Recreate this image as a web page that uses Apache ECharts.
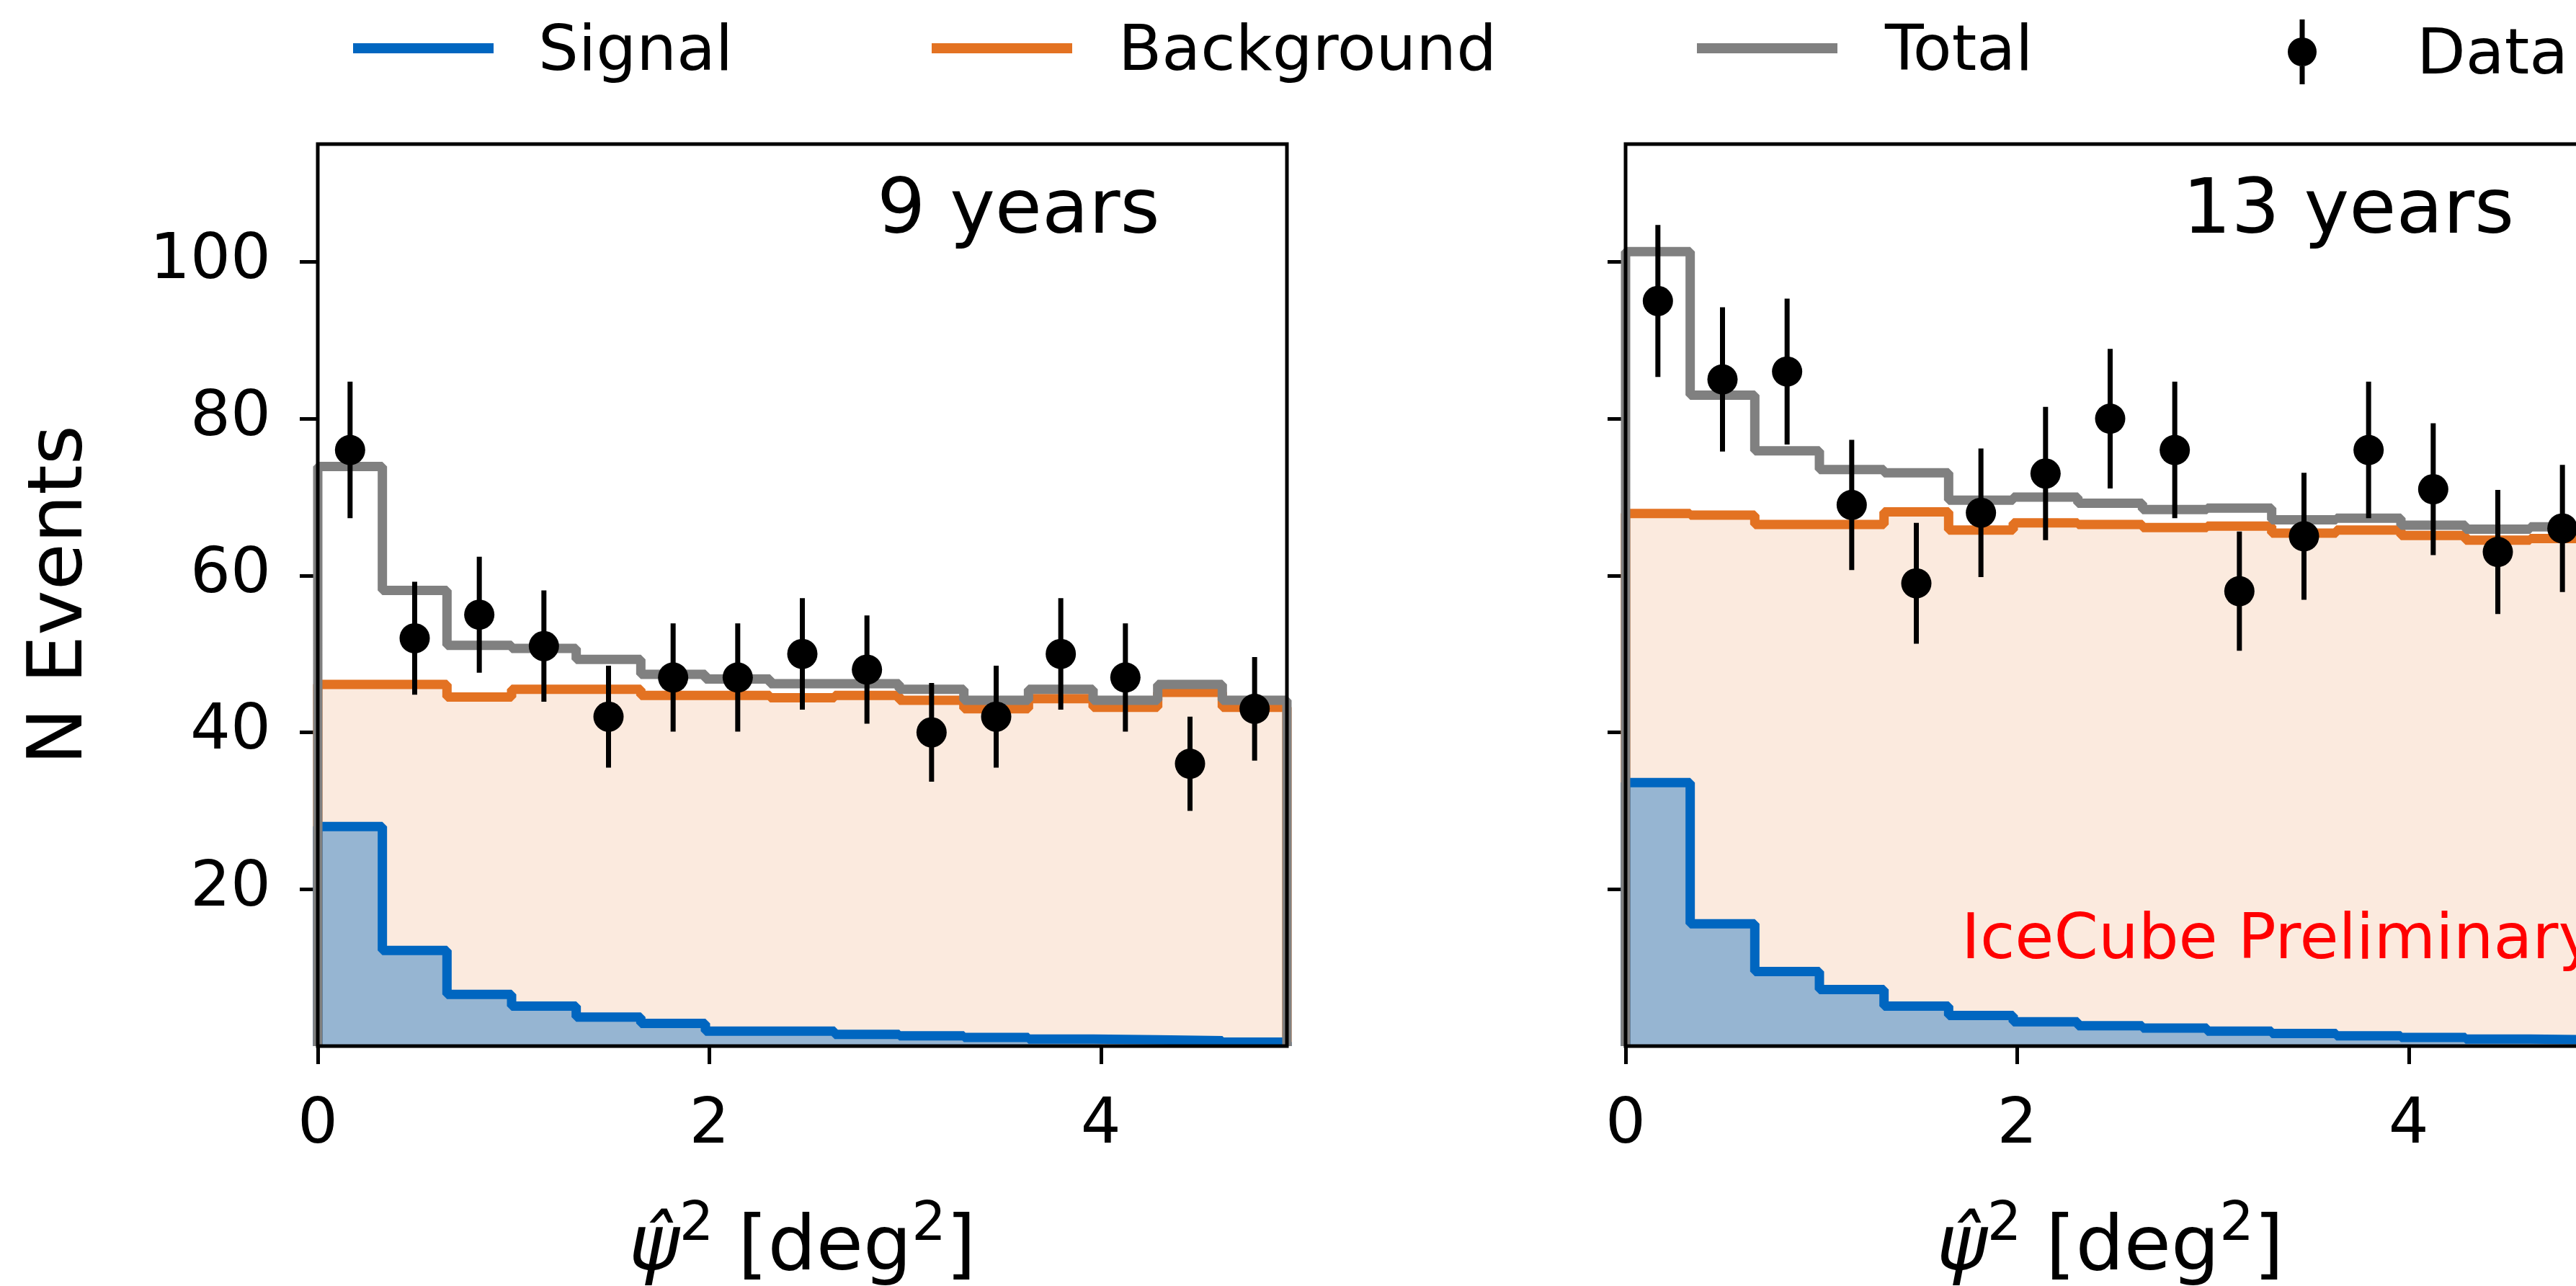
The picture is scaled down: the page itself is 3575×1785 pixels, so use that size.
<!DOCTYPE html>
<html>
<head>
<meta charset="utf-8">
<script src="https://cdn.jsdelivr.net/npm/echarts@6/dist/echarts.min.js"></script>
<style>
  html, body { margin: 0; padding: 0; background: #fff; }
  #chart { width: 3575px; height: 1785px; }
</style>
</head>
<body>
<div id="chart"></div>
<script>
// bin edges of psi^2 [deg^2]
var binEdges = [0, 0.33, 0.66, 0.99, 1.32, 1.65, 1.98, 2.31, 2.64, 2.97, 3.30, 3.63, 3.96, 4.29, 4.62, 4.95];

// 9 years
var signal9 = [28.0, 12.2, 6.6, 5.1, 3.7, 2.9, 1.9, 1.9, 1.5, 1.3, 1.1, 0.9, 0.8, 0.7, 0.5];
var background9 = [46.1, 46.1, 44.5, 45.5, 45.5, 44.7, 44.7, 44.4, 44.7, 44.1, 43.0, 44.3, 43.2, 45.1, 43.2];
var total9 = [73.9, 58.1, 51.1, 50.7, 49.3, 47.4, 46.8, 46.2, 46.2, 45.5, 44.1, 45.5, 44.1, 46.1, 44.1];
var data9 = [76, 52, 55, 51, 42, 47, 47, 50, 48, 40, 42, 50, 47, 36, 43];
var err9 = [8.7, 7.2, 7.4, 7.1, 6.5, 6.9, 6.9, 7.1, 6.9, 6.3, 6.5, 7.1, 6.9, 6.0, 6.6];

// 13 years
var signal13 = [33.6, 15.6, 9.5, 7.2, 5.1, 3.9, 3.1, 2.6, 2.3, 1.9, 1.6, 1.3, 1.1, 0.9, 0.8];
var background13 = [67.9, 67.7, 66.5, 66.5, 68.1, 65.8, 66.7, 66.5, 66.1, 66.3, 65.4, 65.8, 65.1, 64.5, 64.7];
var total13 = [101.3, 83.0, 75.9, 73.5, 73.1, 69.6, 70.0, 69.2, 68.4, 68.6, 67.1, 67.3, 66.4, 65.9, 66.2];
var data13 = [95, 85, 86, 69, 59, 68, 73, 80, 76, 58, 65, 76, 71, 63, 66];
var err13 = [9.7, 9.2, 9.3, 8.3, 7.7, 8.2, 8.5, 8.9, 8.7, 7.6, 8.1, 8.7, 8.4, 7.9, 8.1];

var xTicks = [0, 2, 4];
var yTicks = [20, 40, 60, 80, 100];
var panelLabels = ['9 years', '13 years'];

var FONT = 'DejaVu Sans';
var BLUE = '#0066c0', ORANGE = '#e37222', GRAY = '#808080';

// histogram outline: down to 0 at both ends like matplotlib step hist
function stepData(vals) {
  var pts = [[binEdges[0], 0]];
  vals.forEach(function (v, i) { pts.push([binEdges[i], v]); });
  var last = binEdges[binEdges.length - 1];
  pts.push([last, vals[vals.length - 1]]);
  pts.push([last, 0]);
  return pts;
}
function centers() {
  var c = [];
  for (var i = 0; i < binEdges.length - 1; i++) c.push((binEdges[i] + binEdges[i + 1]) / 2);
  return c;
}

function panelSeries(idx, sig, bkg, tot, dat, err) {
  var cx = centers();
  return [
    {
      name: 'Background', type: 'line', step: 'end', xAxisIndex: idx, yAxisIndex: idx,
      data: stepData(bkg), showSymbol: false, color: ORANGE,
      lineStyle: { color: ORANGE, width: 13 },
      areaStyle: { color: ORANGE, opacity: 0.15 }, z: 2
    },
    {
      name: 'Signal', type: 'line', step: 'end', xAxisIndex: idx, yAxisIndex: idx,
      data: stepData(sig), showSymbol: false, color: BLUE,
      lineStyle: { color: BLUE, width: 13 },
      areaStyle: { color: BLUE, opacity: 0.4 }, z: 3
    },
    {
      name: 'Total', type: 'line', step: 'end', xAxisIndex: idx, yAxisIndex: idx,
      data: stepData(tot), showSymbol: false, color: GRAY,
      lineStyle: { color: GRAY, width: 13 }, z: 4
    },
    {
      name: 'Data', type: 'custom', xAxisIndex: idx, yAxisIndex: idx,
      data: dat.map(function (v, i) { return [cx[i], v - err[i], v + err[i]]; }),
      encode: { x: 0, y: [1, 2] },
      renderItem: function (params, api) {
        var p1 = api.coord([api.value(0), api.value(1)]);
        var p2 = api.coord([api.value(0), api.value(2)]);
        return {
          type: 'line',
          shape: { x1: p1[0], y1: p1[1], x2: p2[0], y2: p2[1] },
          style: { stroke: '#000', lineWidth: 7 }
        };
      },
      z: 5
    },
    {
      name: 'Data', type: 'scatter', xAxisIndex: idx, yAxisIndex: idx,
      data: dat.map(function (v, i) { return [cx[i], v]; }),
      symbol: 'circle', symbolSize: 42, itemStyle: { color: '#000', opacity: 1 }, z: 6
    }
  ];
}

function xAxisOf(idx) {
  return {
    type: 'value', gridIndex: idx, min: 0, max: 4.95,
    splitLine: { show: false },
    axisLine: { show: false },
    axisTick: { show: true, length: 25, lineStyle: { color: '#000', width: 5 }, customValues: xTicks },
    axisLabel: { fontFamily: FONT, fontSize: 88, color: '#000', margin: 67, customValues: xTicks },
    name: '{i|\u03c8\u0302}{s|2}{n| [deg}{s|2}{n|]}',
    nameLocation: 'middle', nameGap: 212,
    nameTextStyle: {
      fontFamily: FONT, fontSize: 106, color: '#000',
      rich: {
        i: { fontFamily: FONT, fontSize: 106, fontStyle: 'italic', color: '#000', lineHeight: 140 },
        n: { fontFamily: FONT, fontSize: 106, color: '#000', lineHeight: 140 },
        s: { fontFamily: FONT, fontSize: 75, color: '#000', verticalAlign: 'top' }
      }
    }
  };
}
function yAxisOf(idx, showLabels) {
  return {
    type: 'value', gridIndex: idx, min: 0, max: 115,
    splitLine: { show: false },
    axisLine: { show: false },
    axisTick: { show: true, length: 25, lineStyle: { color: '#000', width: 5 }, customValues: yTicks },
    axisLabel: { show: showLabels, fontFamily: FONT, fontSize: 88, color: '#000', margin: 65, customValues: yTicks },
    name: showLabels ? 'N Events' : '',
    nameLocation: 'middle', nameGap: 303, nameRotate: 90,
    nameTextStyle: { fontFamily: FONT, fontSize: 106, color: '#000' }
  };
}

// legend handles: the icon box is taller than the drawn mark, so the label
// sits a little lower, like the matplotlib legend
var LINE_ICON = 'path://M0,0 L195,0 L195,14 L0,14 Z M0,28 L0.01,28 Z';
var DATA_ICON = 'path://M16.5,0 L23.5,0 L23.5,90 L16.5,90 Z M0,45 A20,20 0 1,1 40,45 A20,20 0 1,1 0,45 Z M0,105 L0.01,105 Z';

function legendOf(name, left, top, icon, w, h, color, pad) {
  return {
    data: [{ name: name, icon: icon, itemStyle: { color: color, borderWidth: 0 } }],
    left: left, top: top, padding: 0,
    itemWidth: w, itemHeight: h, selectedMode: false,
    textStyle: { fontFamily: FONT, fontSize: 88, color: '#000', padding: [0, 0, 0, pad] }
  };
}

var gridBase = {
  top: 200, width: 1345, height: 1252, show: true,
  borderColor: '#000', borderWidth: 5, backgroundColor: 'transparent', z: 10,
  outerBoundsMode: 'none', containLabel: false
};

var chart = echarts.init(document.getElementById('chart'));
chart.setOption({
  backgroundColor: '#fff',
  animation: false,
  grid: [
    Object.assign({ left: 441 }, gridBase),
    Object.assign({ left: 2256 }, gridBase)
  ],
  legend: [
    legendOf('Signal', 490, 30, LINE_ICON, 195, 28, BLUE, 57),
    legendOf('Background', 1293, 30, LINE_ICON, 195, 28, ORANGE, 59),
    legendOf('Total', 2355, 30, LINE_ICON, 195, 28, GRAY, 61),
    legendOf('Data', 3175, 27, DATA_ICON, 40, 105, '#000', 134)
  ],
  xAxis: [xAxisOf(0), xAxisOf(1)],
  yAxis: [yAxisOf(0, true), yAxisOf(1, false)],
  graphic: [
    { type: 'text', left: 1217, top: 242, z: 100, style: { text: panelLabels[0], font: '106px "DejaVu Sans"', fill: '#000' } },
    { type: 'text', left: 3029, top: 242, z: 100, style: { text: panelLabels[1], font: '106px "DejaVu Sans"', fill: '#000' } },
    { type: 'text', left: 2722, top: 1263, z: 100, style: { text: 'IceCube Preliminary', font: '88px "DejaVu Sans"', fill: '#ff0000' } }
  ],
  series: panelSeries(0, signal9, background9, total9, data9, err9)
    .concat(panelSeries(1, signal13, background13, total13, data13, err13))
});
</script>
</body>
</html>
